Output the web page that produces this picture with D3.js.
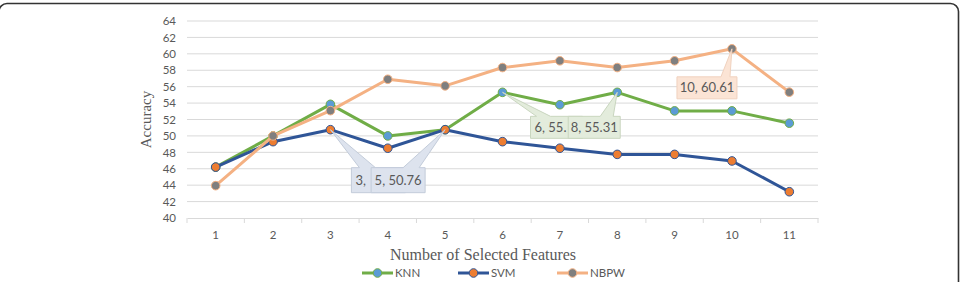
<!DOCTYPE html>
<html>
<head>
<meta charset="utf-8">
<script src="https://cdn.jsdelivr.net/npm/d3@7"></script>
<style>
  body { margin: 0; background: #fff; }
  svg { display: block; }
</style>
</head>
<body>
<script>
// chart values
var features = [1, 2, 3, 4, 5, 6, 7, 8, 9, 10, 11];
var knn  = [46.2, 50.0, 53.85, 50.0, 50.76, 55.31, 53.8, 55.31, 53.05, 53.05, 51.55];
var svm  = [46.2, 49.3, 50.76, 48.5, 50.76, 49.3, 48.5, 47.75, 47.75, 46.95, 43.2];
var nbpw = [43.94, 50.0, 53.08, 56.9, 56.1, 58.33, 59.15, 58.33, 59.15, 60.61, 55.33];
var yTicks = [40, 42, 44, 46, 48, 50, 52, 54, 56, 58, 60, 62, 64];
var seriesNames = ["KNN", "SVM", "NBPW"];

// data labels shown as callouts: [series, feature]
var calloutSeries = ["SVM", "SVM", "KNN", "KNN", "NBPW"];
var calloutFeature = [3, 5, 6, 8, 10];

var W = 963, H = 282;

var svg = d3.select("body").append("svg")
    .attr("width", W)
    .attr("height", H);

// outer frame
svg.append("rect")
    .attr("x", -1).attr("y", 3.5)
    .attr("width", 959.5).attr("height", 320)
    .attr("rx", 8)
    .attr("fill", "none")
    .attr("stroke", "#333")
    .attr("stroke-width", 1.6);

var x = d3.scaleBand()
    .domain(features)
    .range([187, 818])
    .padding(0);
function cx(f) { return x(f) + x.bandwidth() / 2; }

var y = d3.scaleLinear()
    .domain([40, 64])
    .range([218, 21]);

var tickFont = "Lato, 'Open Sans', sans-serif";

// gridlines
svg.append("g")
    .selectAll("line")
    .data(yTicks.slice(1))
    .enter().append("line")
    .attr("x1", 187).attr("x2", 818)
    .attr("y1", function (d) { return y(d); })
    .attr("y2", function (d) { return y(d); })
    .attr("stroke", "#d9d9d9")
    .attr("stroke-width", 1);

// y axis labels
var yAxis = d3.axisLeft(y).tickValues(yTicks).tickSize(0).tickPadding(0);
var yg = svg.append("g")
    .attr("transform", "translate(176,0)")
    .call(yAxis);
yg.select(".domain").remove();
yg.selectAll("text")
    .attr("fill", "#595959")
    .style("font-family", tickFont)
    .style("font-size", "11.5px");

// x axis
var xAxis = d3.axisBottom(x).tickSize(0).tickPadding(13);
var xg = svg.append("g")
    .attr("transform", "translate(0," + y(40) + ")")
    .call(xAxis);
xg.select(".domain").attr("stroke", "#d9d9d9");
xg.selectAll("text")
    .attr("fill", "#595959")
    .style("font-family", tickFont)
    .style("font-size", "11.5px");
// boundary tick marks
xg.selectAll(".bound")
    .data(features.concat([12]))
    .enter().append("line")
    .attr("class", "bound")
    .attr("x1", function (d, i) { return i < features.length ? x(d) : x(11) + x.bandwidth(); })
    .attr("x2", function (d, i) { return i < features.length ? x(d) : x(11) + x.bandwidth(); })
    .attr("y1", 0).attr("y2", 5)
    .attr("stroke", "#d9d9d9");

// axis titles
svg.append("text")
    .attr("x", 483).attr("y", 260)
    .attr("text-anchor", "middle")
    .attr("fill", "#595959")
    .style("font-family", "'Liberation Serif', 'DejaVu Serif', serif")
    .style("font-size", "16px")
    .text("Number of Selected Features");

svg.append("text")
    .attr("transform", "translate(151," + y(52) + ") rotate(-90)")
    .attr("text-anchor", "middle")
    .attr("fill", "#595959")
    .style("font-family", "'Liberation Serif', 'DejaVu Serif', serif")
    .style("font-size", "15px")
    .text("Accuracy");

// series
var series = [
    { name: "KNN", values: knn, line: "#70ad47", marker: "#5b9bd5" },
    { name: "SVM", values: svm, line: "#2f5597", marker: "#ed7d31" },
    { name: "NBPW", values: nbpw, line: "#f4b183", marker: "#7f7f7f" }
];

var line = d3.line()
    .x(function (d, i) { return cx(features[i]); })
    .y(function (d) { return y(d); });

series.forEach(function (s) {
    var g = svg.append("g");
    g.append("path")
        .datum(s.values)
        .attr("d", line)
        .attr("fill", "none")
        .attr("stroke", s.line)
        .attr("stroke-width", 3)
        .attr("stroke-linejoin", "round");
    g.selectAll("circle")
        .data(s.values)
        .enter().append("circle")
        .attr("cx", function (d, i) { return cx(features[i]); })
        .attr("cy", function (d) { return y(d); })
        .attr("r", 4.3)
        .attr("fill", s.marker)
        .attr("stroke", s.line)
        .attr("stroke-width", 1);
});

// callouts
var calloutStyle = {
    KNN:  { fill: "#e3ecdc", stroke: "#c9d6bf" },
    SVM:  { fill: "#dde3ee", stroke: "#c3ccda" },
    NBPW: { fill: "#fbe4d5", stroke: "#f0d2bf" }
};
// box offset from the point, wedge base on the box top, visible width (when covered)
var calloutGeom = [
    { dx: 21,  dy: 38, w: 54, h: 25, b0: 8,  b1: 24, vis: 19 },
    { dx: -74, dy: 38, w: 54, h: 25, b0: 32, b1: 48 },
    { dx: 28,  dy: 24, w: 52, h: 22, b0: 6,  b1: 20, vis: 37 },
    { dx: -49, dy: 24, w: 52, h: 22, b0: 32, b1: 45 },
    { dx: -55, dy: 28, w: 60, h: 22, b0: 44, b1: 53 }
];

calloutSeries.forEach(function (sn, k) {
    var s = series[seriesNames.indexOf(sn)];
    var fi = features.indexOf(calloutFeature[k]);
    var v = s.values[fi];
    var px = cx(calloutFeature[k]), py = y(v);
    var gm = calloutGeom[k];
    var st = calloutStyle[sn];
    var bx = px + gm.dx, by = py + gm.dy;
    var g = svg.append("g");
    var path = d3.path();
    path.moveTo(bx, by);
    path.lineTo(bx + gm.b0, by);
    path.lineTo(px, py);
    path.lineTo(bx + gm.b1, by);
    path.lineTo(bx + gm.w, by);
    path.lineTo(bx + gm.w, by + gm.h);
    path.lineTo(bx, by + gm.h);
    path.closePath();
    g.append("path")
        .attr("d", path.toString())
        .attr("fill", st.fill)
        .attr("stroke", st.stroke)
        .attr("stroke-width", 1);
    var label = calloutFeature[k] + ", " + v;
    var t = g.append("text")
        .attr("y", by + gm.h / 2 + 4.5)
        .attr("fill", "#595959")
        .style("font-family", tickFont)
        .style("font-size", "13px")
        .text(label);
    if (gm.vis) {
        // label is partly hidden by the next callout: show only what fits
        var n = label.length;
        while (n > 1 && t.node().getComputedTextLength() > gm.vis - 4) {
            n--;
            t.text(label.slice(0, n));
        }
        t.attr("x", bx + 4);
    } else {
        t.attr("x", bx + gm.w / 2).attr("text-anchor", "middle");
    }
});

// legend
var legendX = [362, 458, 557];
series.forEach(function (s, i) {
    var g = svg.append("g").attr("transform", "translate(" + legendX[i] + ",273)");
    g.append("line")
        .attr("x1", 0).attr("x2", 31)
        .attr("stroke", s.line)
        .attr("stroke-width", 3);
    g.append("circle")
        .attr("cx", 15.5).attr("r", 4.3)
        .attr("fill", s.marker)
        .attr("stroke", s.line);
    g.append("text")
        .attr("x", 33).attr("y", 4)
        .attr("fill", "#595959")
        .style("font-family", tickFont)
        .style("font-size", "11.5px")
        .text(s.name);
});
</script>
</body>
</html>
